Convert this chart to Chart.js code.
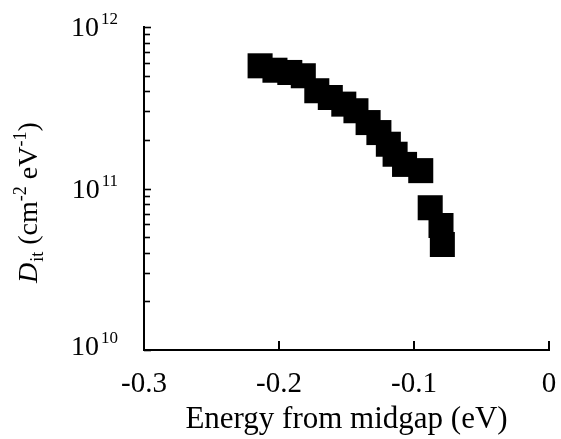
<!DOCTYPE html>
<html>
<head>
<meta charset="utf-8">
<script src="https://cdn.jsdelivr.net/npm/chart.js@4.4.1/dist/chart.umd.min.js"></script>
<style>
  html, body { margin: 0; padding: 0; background: #fff; }
  #c { display: block; }
</style>
</head>
<body>
<canvas id="c" width="561" height="439"></canvas>
<script>
// ---- data ----
const energy = [-0.214, -0.203, -0.192, -0.182, -0.172, -0.162, -0.152, -0.143, -0.134, -0.126, -0.119, -0.114, -0.107, -0.095, -0.088, -0.080, -0.079];
const dit    = [5.75e11, 5.40e11, 5.23e11, 4.99e11, 4.03e11, 3.66e11, 3.33e11, 3.03e11, 2.56e11, 2.22e11, 1.88e11, 1.63e11, 1.41e11, 1.29e11, 7.6e10, 5.9e10, 4.5e10];
const xTickValues = [-0.3, -0.2, -0.1, 0];
const yTickBase = '10';
const yTickExponents = [10, 11, 12];
const yMinorMantissas = [2, 3, 4, 5, 6, 7, 8, 9];
const xTitle = 'Energy from midgap (eV)';
const yTitleParts = [
  { t: 'D', kind: 'main', italic: true },
  { t: 'it', kind: 'sub' },
  { t: ' (cm', kind: 'main' },
  { t: '-2', kind: 'sup' },
  { t: ' eV', kind: 'main' },
  { t: '-1', kind: 'sup' },
  { t: ')', kind: 'main' }
];

const SERIF = '"Liberation Serif", "Times New Roman", serif';

const points = energy.map((e, i) => ({ x: e, y: dit[i] }));

const decor = {
  id: 'decor',
  afterDraw(chart) {
    const { ctx, scales: { x, y }, chartArea: a } = chart;
    ctx.save();
    ctx.strokeStyle = '#000';
    ctx.lineWidth = 2;
    // inward x ticks
    xTickValues.forEach(v => {
      if (v === x.min) return;
      const px = Math.round(x.getPixelForValue(v));
      ctx.beginPath(); ctx.moveTo(px, a.bottom); ctx.lineTo(px, a.bottom - 9); ctx.stroke();
    });
    // inward y ticks, major and minor
    ctx.lineWidth = 1.6;
    for (let k = 0; k < yTickExponents.length; k++) {
      const e = yTickExponents[k];
      const py = Math.round(y.getPixelForValue(Math.pow(10, e))) + 0.5;
      ctx.beginPath(); ctx.moveTo(a.left, py); ctx.lineTo(a.left + 7, py); ctx.stroke();
      if (k < yTickExponents.length - 1) {
        yMinorMantissas.forEach(m => {
          const pm = Math.round(y.getPixelForValue(m * Math.pow(10, e))) + 0.5;
          ctx.beginPath(); ctx.moveTo(a.left, pm); ctx.lineTo(a.left + 6, pm); ctx.stroke();
        });
      }
    }
    // y tick labels 10^n
    ctx.fillStyle = '#000';
    ctx.textBaseline = 'alphabetic';
    yTickExponents.forEach(e => {
      const py = y.getPixelForValue(Math.pow(10, e));
      const right = 118;
      ctx.font = '17px ' + SERIF;
      ctx.textAlign = 'right';
      const sup = String(e);
      const sw = ctx.measureText(sup).width;
      ctx.fillText(sup, right, py - 3 + (e === 10 ? -4 : 0));
      ctx.font = '28px ' + SERIF;
      ctx.fillText(yTickBase, right - sw - 2, py + 9 + (e === 10 ? -4 : 0));
    });
    // y axis title (rotated rich text)
    ctx.translate(37, 283);
    ctx.rotate(-Math.PI / 2);
    ctx.textAlign = 'left';
    let cx = 0;
    yTitleParts.forEach(p => {
      let size = 28, dy = 0;
      if (p.kind === 'sub') { size = 18; dy = 6; }
      if (p.kind === 'sup') { size = 18; dy = -11; }
      ctx.font = (p.italic ? 'italic ' : '') + size + 'px ' + SERIF;
      ctx.fillText(p.t, cx, dy);
      cx += ctx.measureText(p.t).width + (p.italic ? 1 : 0);
    });
    ctx.restore();
  }
};

new Chart(document.getElementById('c'), {
  type: 'scatter',
  data: {
    datasets: [{
      data: points,
      pointStyle: 'rect',
      pointRadius: 17.7,
      pointHoverRadius: 17.7,
      backgroundColor: '#000',
      borderColor: '#000',
      borderWidth: 0,
      showLine: false
    }]
  },
  options: {
    responsive: false,
    animation: false,
    events: [],
    layout: { autoPadding: false, padding: { left: 0, right: 12, top: 27, bottom: 0 } },
    plugins: { legend: { display: false }, tooltip: { enabled: false } },
    scales: {
      x: {
        type: 'linear',
        min: -0.3,
        max: 0,
        afterBuildTicks(s) { s.ticks = xTickValues.map(v => ({ value: v })); },
        ticks: {
          color: '#000',
          font: { family: SERIF, size: 29 },
          padding: 17,
          maxRotation: 0,
          callback: v => String(v)
        },
        grid: { display: false, drawTicks: false },
        border: { display: true, color: '#000', width: 2 },
        title: {
          display: true,
          text: xTitle,
          color: '#000',
          font: { family: SERIF, size: 31 },
          padding: { top: 0, bottom: 1 }
        },
        afterFit(s) { s.height = 89; s.paddingLeft = 0; s.paddingRight = 0; }
      },
      y: {
        type: 'logarithmic',
        min: 1e10,
        max: 1e12,
        ticks: { display: false },
        grid: { display: false, drawTicks: false },
        border: { display: true, color: '#000', width: 2 },
        afterFit(s) { s.width = 144; s.paddingTop = 0; s.paddingBottom = 0; }
      }
    }
  },
  plugins: [decor]
});
</script>
</body>
</html>
